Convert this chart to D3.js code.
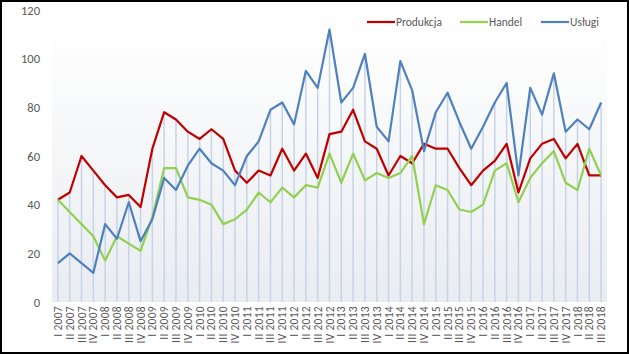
<!DOCTYPE html>
<html>
<head>
<meta charset="utf-8">
<script src="https://cdn.jsdelivr.net/npm/d3@7"></script>
<style>
  body { margin: 0; background: #fff; }
  text { font-family: "Calibri", "Carlito", "Open Sans", "Liberation Sans", sans-serif; fill: #595959; }
</style>
</head>
<body>
<svg id="chart" width="629" height="354"></svg>
<script>
// kwartały I 2007 .. III 2018
var quarters = [];
var roman = ["I", "II", "III", "IV"];
for (var y = 2007; y <= 2018; y++) {
    for (var q = 0; q < 4; q++) {
        if (y === 2018 && q > 2) break;
        quarters.push(roman[q] + " " + y);
    }
}

var produkcja = [42,45,60,54,48,43,44,39,63,78,75,70,67,71,67,54,49,54,52,63,54,61,51,69,70,79,66,63,52,60,57,65,63,63,55,48,54,58,65,45,59,65,67,59,65,52,52];
var handel    = [42,37,32,27,17,27,24,21,35,55,55,43,42,40,32,34,38,45,41,47,43,48,47,61,49,61,50,53,51,53,60,32,48,46,38,37,40,54,57,41,51,57,62,49,46,63,52];
var uslugi    = [16,20,16,12,32,26,41,25,34,51,46,56,63,57,54,48,60,66,79,82,73,95,88,112,82,88,102,72,66,99,87,62,78,86,74,63,72,82,90,52,88,77,94,70,75,71,82];

var yTicks = [0, 20, 40, 60, 80, 100, 120];

var series = [
    { name: "Produkcja", values: produkcja, color: "#c00000" },
    { name: "Handel", values: handel, color: "#92d050" },
    { name: "Usługi", values: uslugi, color: "#4f81bd" }
];

var svg = d3.select("#chart");
var width = 629, height = 354;
var padding = { top: 10, right: 22, bottom: 52, left: 52 };

var xScale = d3.scaleBand()
    .domain(quarters)
    .range([padding.left, width - padding.right]);

var yScale = d3.scaleLinear()
    .domain([0, 120])
    .range([height - padding.bottom, padding.top]);

// tło obszaru wykresu - gradient
var defs = svg.append("defs");
var grad = defs.append("linearGradient")
    .attr("id", "bg")
    .attr("x1", 0).attr("y1", 0).attr("x2", 0).attr("y2", 1);
grad.append("stop").attr("offset", "0%").attr("stop-color", "#ffffff");
grad.append("stop").attr("offset", "15%").attr("stop-color", "#fdfdfd");
grad.append("stop").attr("offset", "100%").attr("stop-color", "#e9ecf1");

svg.append("rect")
    .attr("x", padding.left)
    .attr("y", yScale(120))
    .attr("width", width - padding.right - padding.left)
    .attr("height", yScale(0) - yScale(120))
    .attr("fill", "url(#bg)");

var xc = function(d) { return xScale(d) + xScale.bandwidth() / 2; };

// linie pionowe (od najwyższego punktu do osi)
svg.append("g")
    .selectAll("line")
    .data(quarters)
    .enter()
    .append("line")
        .attr("x1", xc)
        .attr("x2", xc)
        .attr("y1", function(d, i) { return yScale(Math.max(produkcja[i], handel[i], uslugi[i])); })
        .attr("y2", yScale(0))
        .attr("stroke", "#c6d4e8")
        .attr("stroke-width", 1.5);

// oś Y - same etykiety
var yAxis = d3.axisLeft(yScale).tickValues(yTicks).tickSize(0).tickPadding(0);
var gy = svg.append("g")
    .attr("transform", "translate(40,0)")
    .call(yAxis);
gy.select(".domain").remove();
gy.selectAll("text")
    .style("font-size", "12.5px")
    .attr("fill", "#595959");

// oś X - etykiety pionowe
var gx = svg.append("g")
    .attr("transform", "translate(0," + (height - padding.bottom) + ")")
    .call(d3.axisBottom(xScale).tickSize(0).tickPadding(0));
gx.select(".domain").remove();
gx.selectAll("text")
    .attr("transform", "rotate(-90)")
    .attr("x", -4)
    .attr("y", 0)
    .attr("dy", "0.35em")
    .style("text-anchor", "end")
    .style("font-size", "11.5px")
    .style("letter-spacing", "0.3px")
    .attr("fill", "#595959");

// linie serii
var line = d3.line()
    .x(function(d, i) { return xc(quarters[i]); })
    .y(function(d) { return yScale(d); });

series.forEach(function(s) {
    svg.append("path")
        .datum(s.values)
        .attr("d", line)
        .attr("fill", "none")
        .attr("stroke", s.color)
        .attr("stroke-width", 2.2)
        .attr("stroke-linejoin", "round");
});

// legenda
var legendX = [367, 460, 541];
var legend = svg.append("g");
series.forEach(function(s, i) {
    legend.append("line")
        .attr("x1", legendX[i]).attr("x2", legendX[i] + 28)
        .attr("y1", 22).attr("y2", 22)
        .attr("stroke", s.color)
        .attr("stroke-width", 2.2);
    legend.append("text")
        .attr("x", legendX[i] + 29)
        .attr("y", 22)
        .attr("dy", "0.35em")
        .style("font-size", "11.5px")
        .text(s.name);
});

// ramka
svg.append("rect")
    .attr("x", 1).attr("y", 1)
    .attr("width", width - 2).attr("height", height - 2)
    .attr("fill", "none")
    .attr("stroke", "#000")
    .attr("stroke-width", 2);
</script>
</body>
</html>
